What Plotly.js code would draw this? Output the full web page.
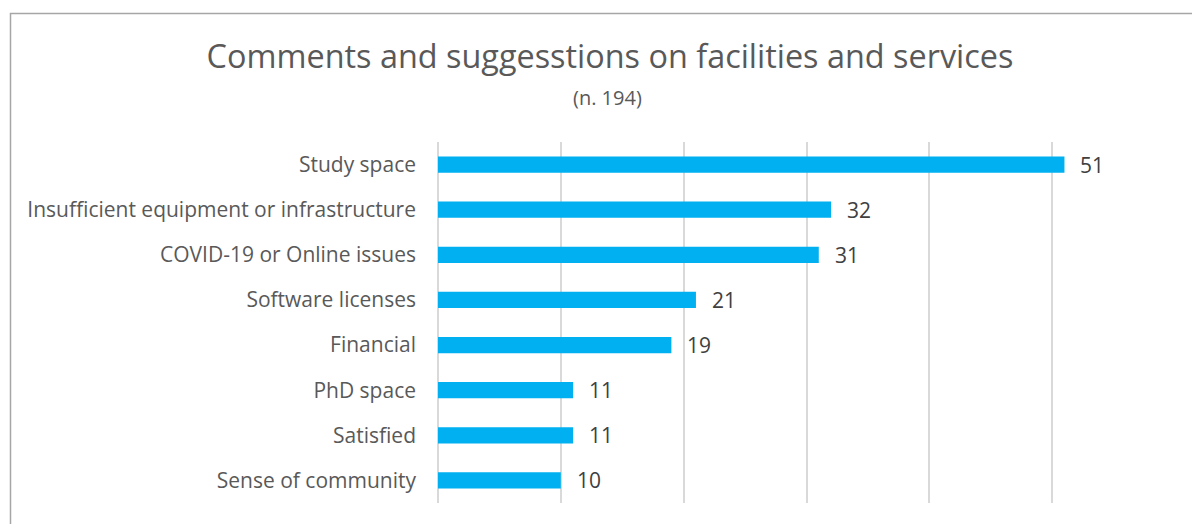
<!DOCTYPE html>
<html>
<head>
<meta charset="utf-8">
<script src="https://cdn.plot.ly/plotly-3.0.1.min.js"></script>
<style>html,body{margin:0;padding:0;background:#fff;}#chart{width:1192px;height:524px;}</style>
</head>
<body>
<div id="chart"></div>
<script>
const categories = ["Study space","Insufficient equipment or infrastructure","COVID-19 or Online issues","Software licenses","Financial","PhD space","Satisfied","Sense of community"];
const values = [51, 32, 31, 21, 19, 11, 11, 10];
const titleText = "Comments and suggesstions on facilities and services";
const subtitleText = "(n. 194)";

const FONT = "Open Sans, sans-serif";
const TXT = "#595959";

const trace = {
  type: "bar",
  orientation: "h",
  x: values,
  y: categories,
  marker: {color: "#00B0F0"},
  hoverinfo: "x+y"
};

const annotations = values.map((v, i) => ({
  x: v, y: categories[i], xref: "x", yref: "y",
  text: String(v), showarrow: false, xanchor: "left", xshift: 14,
  font: {family: FONT, size: 21, color: "#404040"}
}));
annotations.push({
  text: subtitleText, xref: "paper", yref: "paper",
  x: (607 - 438) / 737, y: (503 - 97) / 361, showarrow: false,
  xanchor: "center", yanchor: "middle",
  font: {family: FONT, size: 20, color: TXT}
});

const layout = {
  width: 1192, height: 524,
  margin: {l: 438, r: 17, t: 142, b: 21, pad: 0},
  paper_bgcolor: "#fff", plot_bgcolor: "#fff",
  title: {text: titleText, x: 610 / 1192, xanchor: "center", y: 1 - 57 / 524, yanchor: "middle", xref: "container", yref: "container",
          font: {family: FONT, size: 32.4, color: TXT}},
  bargap: 0.64,
  showlegend: false,
  xaxis: {range: [0, 60], dtick: 10, showgrid: true, gridcolor: "#d9d9d9", gridwidth: 2, showticklabels: false, zeroline: true, zerolinecolor: "#d9d9d9", zerolinewidth: 2, fixedrange: true},
  yaxis: {categoryorder: "array", categoryarray: categories.slice().reverse(), autorange: true, showgrid: false, zeroline: false,
          ticks: "", ticklabelstandoff: 21, tickfont: {family: FONT, size: 21, color: TXT}, fixedrange: true},
  annotations: annotations,
  shapes: [{type: "rect", xref: "paper", yref: "paper",
            x0: (10.5 - 438) / 737, x1: (1200 - 438) / 737,
            y0: (503 - 540) / 361, y1: (503 - 13.5) / 361,
            line: {color: "#a6a6a6", width: 1.5}, fillcolor: "rgba(0,0,0,0)", layer: "below"}]
};

Plotly.newPlot("chart", [trace], layout, {displayModeBar: false, staticPlot: true});
</script>
</body>
</html>
